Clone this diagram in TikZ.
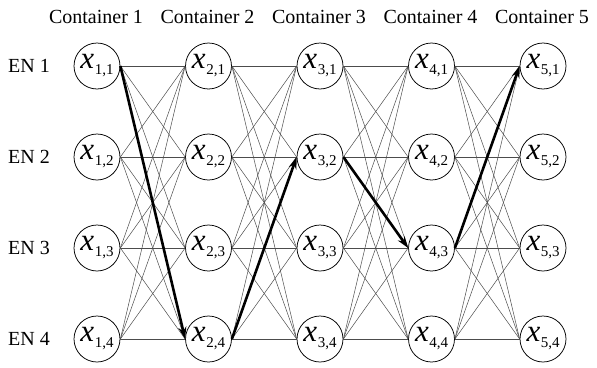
\documentclass[tikz,border=0pt]{standalone}
\usepackage{fontspec}
\setmainfont{Liberation Serif}
\usetikzlibrary{arrows.meta}

% label of one state node
\newcommand{\xlab}[2]{\textit{x}\kern0.5pt\raisebox{-6pt}{\fontsize{15}{15}\selectfont #1,#2}}

\tikzset{every picture/.style={line width=0.75pt}}

\begin{document}
\begin{tikzpicture}[x=1pt,y=1pt,yscale=-1,xscale=1,
	state/.style={draw,circle,minimum size=46pt,inner sep=0pt,font=\fontsize{31}{31}\selectfont},
	head/.style={font=\fontsize{20}{23}\selectfont},
	link/.style={draw=black!70,line width=0.5pt},
	route/.style={line width=2.6pt,-{Stealth[length=12pt,width=8pt]}}]
	\useasboundingbox (0,0) rectangle (597,367);

	%Column titles and states
	\foreach \c in {1,...,5} {
		\node[head] (t\c) at (96+111.5*\c-111.5,17) {Container \c};
		\foreach \r in {1,...,4} {
			\node[state] (n\c\r) at (97+111.5*\c-111.5,66+91*\r-91) {\xlab{\c}{\r}};
		}
	}
	%Row titles
	\foreach \r in {1,...,4} {
		\node[head] (en\r) at (29,66+91*\r-91) {EN \r};
	}

	%All links between neighbouring columns
	\foreach \c [evaluate=\c as \d using int(\c+1)] in {1,...,4} {
		\foreach \r in {1,...,4} {
			\foreach \s in {1,...,4} {
				\draw[link] (n\c\r.east) -- (n\d\s.west);
			}
		}
	}

	%Chosen route
	\draw[route] (n11.east) -- (n24.west);
	\draw[route] (n24.east) -- (n32.west);
	\draw[route] (n32.east) -- (n43.west);
	\draw[route] (n43.east) -- (n51.west);

\end{tikzpicture}
\end{document}
